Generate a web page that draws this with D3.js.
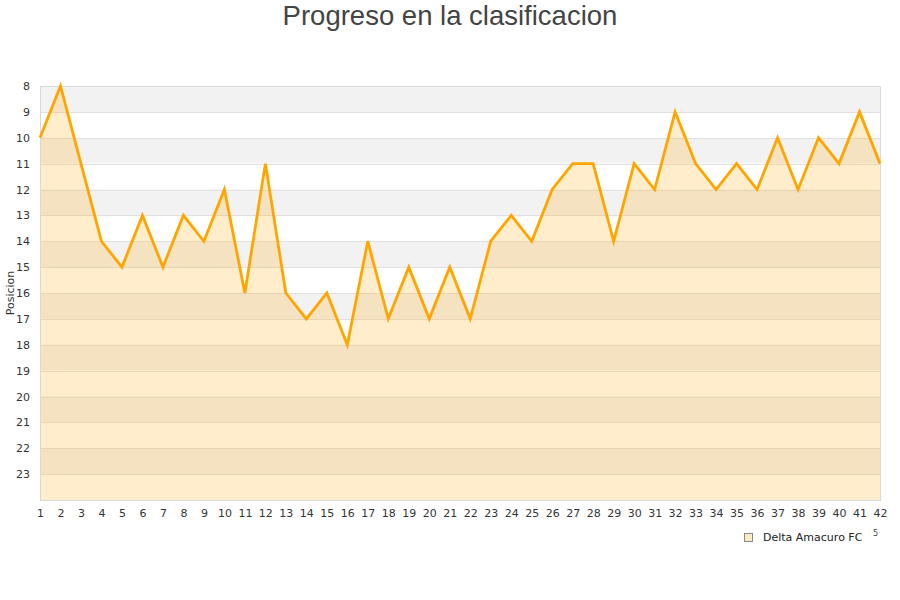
<!DOCTYPE html>
<html><head><meta charset="utf-8">
<script src="https://cdn.jsdelivr.net/npm/d3@7"></script>
<style>body{margin:0;background:#fff;}svg{display:block;}</style>
</head><body>
<svg id="c" width="900" height="600"></svg>
<script>
const rounds = d3.range(1, 43);
const positions = [10,8,11,14,15,13,15,13,14,12,16,11,16,17,16,18,14,17,15,17,15,17,14,13,14,12,11,11,14,11,12,9,11,12,11,12,10,12,10,11,9,11];
const yTicks = d3.range(8, 24);
const seriesName = "Delta Amacuro FC";
const title = "Progreso en la clasificacion";
const yLabel = "Posicion";

const svg = d3.select("#c");
const m = {l:40, r:20, t:86, b:100};
const W = 900, H = 600;
const x = d3.scaleLinear().domain([1, 42]).range([m.l, W - m.r]);
const y = d3.scaleLinear().domain([8, 24]).range([m.t, H - m.b]);

// bands
const bands = d3.range(8, 24);
svg.append("g").selectAll("rect").data(bands).join("rect")
  .attr("x", x(1)).attr("width", x(42) - x(1))
  .attr("y", d => y(d)).attr("height", d => y(d + 1) - y(d))
  .attr("fill", d => d % 2 === 0 ? "#f2f2f2" : "#ffffff");

// gridlines
svg.append("g").selectAll("line").data(yTicks.concat([24])).join("line")
  .attr("x1", x(1)).attr("x2", x(42))
  .attr("y1", d => Math.round(y(d)) + 0.5).attr("y2", d => Math.round(y(d)) + 0.5)
  .attr("stroke", "#e0e0e0").attr("stroke-width", 1);

// area
const data = rounds.map((r, i) => ({r, p: positions[i]}));
svg.append("path").datum(data)
  .attr("d", d3.area().x(d => x(d.r)).y0(y(24)).y1(d => y(d.p)))
  .attr("fill", "rgba(255,165,0,0.2)");

// border
svg.append("rect").attr("x", x(1) + 0.5).attr("y", y(8) + 0.5)
  .attr("width", x(42) - x(1)).attr("height", y(24) - y(8))
  .attr("fill", "none").attr("stroke", "#d9d9d9");

// line
svg.append("path").datum(data)
  .attr("d", d3.line().x(d => x(d.r)).y(d => y(d.p)))
  .attr("fill", "none").attr("stroke", "#ffa500").attr("stroke-width", 2.8)
  .attr("stroke-linejoin", "miter");

// axes
const yAxis = d3.axisLeft(y).tickValues(yTicks).tickSize(0).tickPadding(10);
const gy = svg.append("g").attr("transform", `translate(${x(1)},0)`).call(yAxis);
gy.select(".domain").remove();
gy.selectAll("text").attr("font-family", "DejaVu Sans, sans-serif").attr("font-size", 11).attr("fill", "#333");

const xAxis = d3.axisBottom(x).tickValues(rounds).tickFormat(d3.format("d")).tickSize(0).tickPadding(9);
const gx = svg.append("g").attr("transform", `translate(0,${y(24)})`).call(xAxis);
gx.select(".domain").remove();
gx.selectAll("text").attr("font-family", "DejaVu Sans, sans-serif").attr("font-size", 11).attr("fill", "#333");

// title
svg.append("text").attr("x", 450).attr("y", 25).attr("text-anchor", "middle")
  .attr("font-family", "Liberation Sans, Arial, sans-serif").attr("font-size", 27.5).attr("fill", "#444")
  .text(title);

// y label
svg.append("text").attr("transform", "translate(14,293) rotate(-90)").attr("text-anchor", "middle")
  .attr("font-family", "DejaVu Sans, sans-serif").attr("font-size", 11).attr("fill", "#333")
  .text(yLabel);

// legend
svg.append("rect").attr("x", 744.5).attr("y", 533.5).attr("width", 8).attr("height", 8)
  .attr("fill", "#ffe9c0").attr("stroke", "#888").attr("stroke-width", 1);
svg.append("text").attr("x", 763).attr("y", 541)
  .attr("font-family", "DejaVu Sans, sans-serif").attr("font-size", 11).attr("fill", "#222")
  .text(seriesName);
svg.append("text").attr("x", 873).attr("y", 536)
  .attr("font-family", "DejaVu Sans, sans-serif").attr("font-size", 8).attr("fill", "#444")
  .text("5");
</script>
</body></html>
